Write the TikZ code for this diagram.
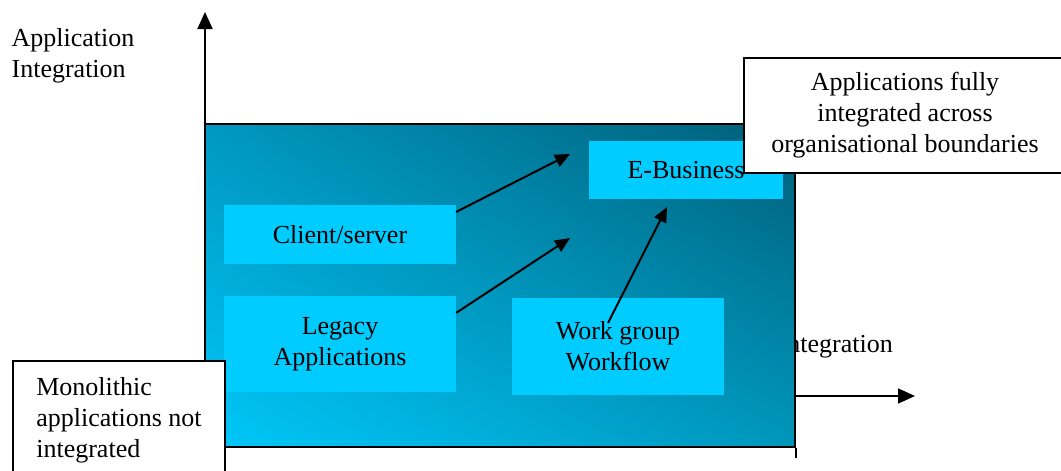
\documentclass[tikz,border=0pt]{standalone}
\usepackage{fontspec}
\setmainfont{Liberation Serif}
\usetikzlibrary{arrows.meta, shadings}
\definecolor{boxcyan}{HTML}{00CCFF}
\definecolor{frameul}{HTML}{0098C0}
\definecolor{frameur}{HTML}{005E78}
\definecolor{framell}{HTML}{00C8FA}
\definecolor{framelr}{HTML}{0096BC}

\begin{document}
\begin{tikzpicture}[x=1pt, y=-1pt,
    font=\fontsize{26}{31}\selectfont,
    appbox/.style={fill=boxcyan, inner sep=0pt, align=center},
    note/.style={draw, line width=2pt, fill=white, inner sep=0pt, align=center},
    axis/.style={line width=1.8pt, -{Triangle[length=17pt,width=15pt]}},
    arr/.style={line width=2pt, -{Triangle[length=15pt,width=13pt]}}]
      \useasboundingbox (0,0) rectangle (1061,471);

      % Axes
      \node[anchor=base east, inner sep=0pt] (xlabel) at (893,352) {Integration};
      \node[align=left, inner sep=0pt] (ylabel) at (73,56) {Application\\Integration};
      \coordinate (origin) at (205,447);
      \coordinate (ytip) at (205,12);
      \coordinate (xstart) at (795,396);
      \coordinate (xtip) at (915,396);
      \draw[axis] (origin) -- (ytip);
      \draw[axis] (xstart) -- (xtip);

      % Frame
      \node[draw, line width=2pt, inner sep=0pt,
            minimum width=590pt, minimum height=323pt,
            upper left=frameul, upper right=frameur,
            lower left=framell, lower right=framelr] (frame) at (500,285.5) {};
      \draw[line width=1.5pt] (frame.south east) -- ++(0,10);

      % Boxes
      \node[appbox, minimum width=232pt, minimum height=59pt] (client) at (340,234.5) {Client/server};
      \node[appbox, minimum width=232pt, minimum height=96pt] (legacy) at (340,344) {Legacy\\Applications};
      \node[appbox, minimum width=212pt, minimum height=97pt] (workflow) at (618,346.5) {Work group\\Workflow};
      \node[appbox, minimum width=194pt, minimum height=58pt] (ebiz) at (686,170) {E-Business};

      % Arrows
      \coordinate (tipa) at (570,154);
      \coordinate (tipb) at (570,238);
      \coordinate (tipc) at (667,207);
      \coordinate (wstart) at (608,323);
      \draw[arr] (client.11) -- (tipa);
      \draw[arr] (legacy.15) -- (tipb);
      \draw[arr] (wstart) -- (tipc);

      % Notes
      \node[note, minimum width=322pt, minimum height=115pt] (fullnote) at (905,115.5)
        {Applications fully\\integrated across\\organisational boundaries};
      \node[note, minimum width=212pt, minimum height=118pt, align=left] (mononote) at (119,420)
        {Monolithic\\applications not\\integrated};
    \end{tikzpicture}
\end{document}
